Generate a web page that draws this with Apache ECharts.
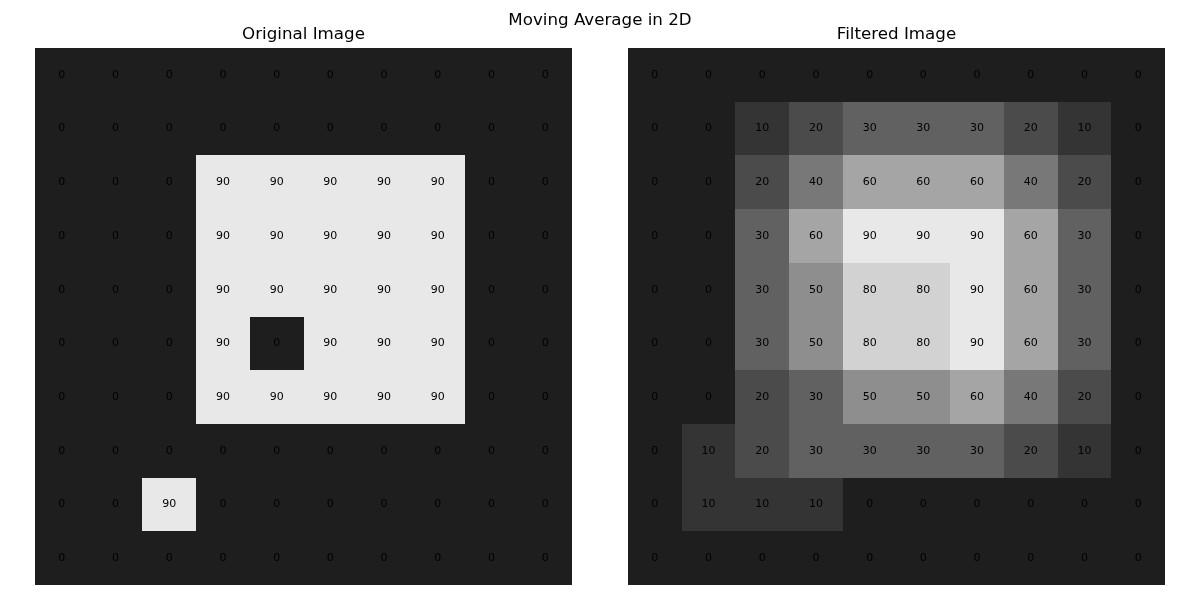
<!DOCTYPE html>
<html><head><meta charset="utf-8">
<script src="https://cdn.jsdelivr.net/npm/echarts@6/dist/echarts.min.js"></script>
<style>html,body{margin:0;padding:0;background:#fff}#c{width:1200px;height:600px}</style>
</head><body><div id="c"></div>
<script>
const title = 'Moving Average in 2D';
const leftTitle = 'Original Image';
const rightTitle = 'Filtered Image';
const cols = ['0','1','2','3','4','5','6','7','8','9'];
const rows = ['0','1','2','3','4','5','6','7','8','9'];
const original = [
  [0,0,0,0,0,0,0,0,0,0],
  [0,0,0,0,0,0,0,0,0,0],
  [0,0,0,90,90,90,90,90,0,0],
  [0,0,0,90,90,90,90,90,0,0],
  [0,0,0,90,90,90,90,90,0,0],
  [0,0,0,90,0,90,90,90,0,0],
  [0,0,0,90,90,90,90,90,0,0],
  [0,0,0,0,0,0,0,0,0,0],
  [0,0,90,0,0,0,0,0,0,0],
  [0,0,0,0,0,0,0,0,0,0]
];
const filtered = [
  [0,0,0,0,0,0,0,0,0,0],
  [0,0,10,20,30,30,30,20,10,0],
  [0,0,20,40,60,60,60,40,20,0],
  [0,0,30,60,90,90,90,60,30,0],
  [0,0,30,50,80,80,90,60,30,0],
  [0,0,30,50,80,80,90,60,30,0],
  [0,0,20,30,50,50,60,40,20,0],
  [0,10,20,30,30,30,30,20,10,0],
  [0,10,10,10,0,0,0,0,0,0],
  [0,0,0,0,0,0,0,0,0,0]
];
function toData(m){const d=[];m.forEach((r,i)=>r.forEach((v,j)=>d.push([j,i,v])));return d;}
const font = 'DejaVu Sans';
const chart = echarts.init(document.getElementById('c'));
const axX = i => ({type:'category',data:cols,gridIndex:i,show:false,axisLine:{show:false},axisTick:{show:false},splitLine:{show:false}});
const axY = i => ({type:'category',data:rows,gridIndex:i,inverse:true,show:false,axisLine:{show:false},axisTick:{show:false},splitLine:{show:false}});
const ts = {fontFamily:font,fontSize:16.7,fontWeight:'normal',color:'#000'};
function renderCell(params, api){
  const p = api.coord([api.value(0), api.value(1)]);
  const s = api.size([1,1]);
  const x0 = Math.round(p[0]-s[0]/2), x1 = Math.round(p[0]+s[0]/2);
  const y0 = Math.round(p[1]-s[1]/2), y1 = Math.round(p[1]+s[1]/2);
  return {type:'group', children:[
    {type:'rect', shape:{x:x0,y:y0,width:x1-x0,height:y1-y0}, style:{fill:api.visual('color')}},
    {type:'text', x:p[0], y:p[1], style:{text:String(api.value(2)), align:'center', verticalAlign:'middle',
      fill:'#000', fontFamily:font, fontSize:11}}
  ]};
}
chart.setOption({
  animation:false,
  backgroundColor:'#fff',
  title:[
    {text:title,left:'center',top:12,padding:0,textStyle:ts},
    {text:leftTitle,left:303.5,textAlign:'center',top:26,padding:0,textStyle:ts},
    {text:rightTitle,left:896.5,textAlign:'center',top:26,padding:0,textStyle:ts}
  ],
  grid:[
    {left:35,top:48,width:537,height:537},
    {left:628,top:48,width:537,height:537}
  ],
  xAxis:[axX(0),axX(1)],
  yAxis:[axY(0),axY(1)],
  visualMap:[
    {show:false,seriesIndex:0,dimension:2,min:0,max:90,inRange:{color:['#1e1e1e','#e8e8e8']}},
    {show:false,seriesIndex:1,dimension:2,min:0,max:90,inRange:{color:['#1e1e1e','#e8e8e8']}}
  ],
  series:[
    {type:'custom',xAxisIndex:0,yAxisIndex:0,data:toData(original),renderItem:renderCell,silent:true},
    {type:'custom',xAxisIndex:1,yAxisIndex:1,data:toData(filtered),renderItem:renderCell,silent:true}
  ]
});
</script></body></html>
